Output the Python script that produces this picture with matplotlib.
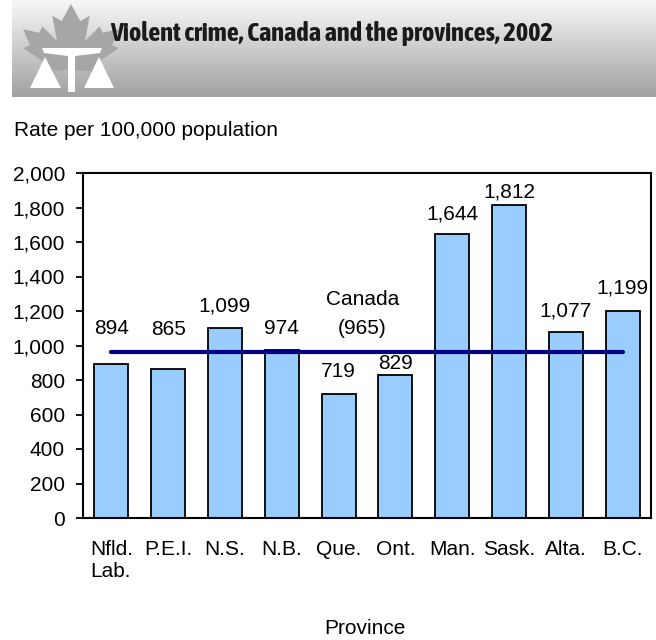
import numpy as np
import matplotlib
matplotlib.use('Agg')
import matplotlib.pyplot as plt
from matplotlib import font_manager
from matplotlib.patches import Polygon

# Violent crime rates per 100,000 population, 2002
provinces = ["Nfld.\nLab.", "P.E.I.", "N.S.", "N.B.", "Que.", "Ont.", "Man.", "Sask.", "Alta.", "B.C."]
rates = [894, 865, 1099, 974, 719, 829, 1644, 1812, 1077, 1199]
canada_rate = 965
# heights where the value labels sit (kept clear of the Canada line)
label_heights = [1101, 1090, 1229, 1101, 850, 895, 1762, 1890, 1200, 1333]

plt.rcParams['font.family'] = ['Liberation Sans', 'DejaVu Sans']
FS = 15

# a narrow bold face for the header if one is around
title_font = dict(family=['Liberation Sans', 'DejaVu Sans'], fontsize=15.5)
for f in font_manager.fontManager.ttflist:
    if ('Narrow' in f.name or 'Condensed' in f.name) and f.weight in ('bold', 700):
        title_font = dict(family=[f.name, 'DejaVu Sans'], fontsize=19)
        break
    if f.name == 'DejaVu Sans' and f.stretch == 'condensed' and f.weight in ('bold', 700):
        title_font = dict(family=['DejaVu Sans'], stretch='condensed', fontsize=16.5)

fig = plt.figure(figsize=(6.56, 6.40), dpi=100)

# header band with grey gradient, logo and title
deco = fig.add_axes([0, 0, 1, 1], zorder=0)
deco.set_xlim(0, 656)
deco.set_ylim(640, 0)
deco.axis('off')
grad = np.linspace(0.97, 0.63, 100).reshape(-1, 1)
deco.imshow(grad, cmap='gray', vmin=0, vmax=1, extent=[12, 656, 97, 0], aspect='auto')

leaf = np.array([
    (0, 1.0), (0.18, 0.62), (0.36, 0.74), (0.27, 0.18), (0.55, 0.50), (0.61, 0.36),
    (0.92, 0.44), (0.79, 0.08), (0.92, 0.02), (0.46, -0.34), (0.53, -0.52),
    (0.06, -0.46), (0.06, -0.95), (-0.06, -0.95), (-0.06, -0.46), (-0.53, -0.52),
    (-0.46, -0.34), (-0.92, 0.02), (-0.79, 0.08), (-0.92, 0.44), (-0.61, 0.36),
    (-0.55, 0.50), (-0.27, 0.18), (-0.36, 0.74), (-0.18, 0.62)])
cx, cy = 71, 49
deco.add_patch(Polygon(np.column_stack([cx + 52 * leaf[:, 0], cy - 45 * leaf[:, 1]]),
                       closed=True, fc='#a6a6a6', ec='none'))
white = dict(closed=True, fc='white', ec='none')
deco.add_patch(Polygon([(42, 48), (102, 48), (100, 53), (75, 56), (68, 56), (44, 53)], **white))
deco.add_patch(Polygon([(68, 54), (75, 54), (75, 92), (68, 92)], **white))
deco.add_patch(Polygon([(45, 57), (30, 88), (61, 88)], **white))
deco.add_patch(Polygon([(99, 57), (84, 88), (114, 88)], **white))

fig.text(110 / 656, 1 - 33 / 640, "Violent crime, Canada and the provinces, 2002",
         fontweight='bold', color='#1a1a1a', va='center', ha='left', **title_font)
fig.text(14 / 656, 1 - 130 / 640, "Rate per 100,000 population", fontsize=FS,
         va='center', ha='left')

ax = fig.add_axes([83 / 656, 122 / 640, 568 / 656, 345 / 640], zorder=1)
ax.patch.set_alpha(0)
x = np.arange(len(provinces))
ax.bar(x, rates, width=0.6, color='#99ccff', edgecolor='black', linewidth=1.3, zorder=2)
ax.plot([x[0], x[-1]], [canada_rate, canada_rate], color='#000080', lw=3, zorder=3,
        solid_capstyle='round')

for xi, r, h in zip(x, rates, label_heights):
    ax.text(xi, h, f"{r:,}", ha='center', va='center', fontsize=FS)
ax.text(4.42, 1267, "Canada", ha='center', va='center', fontsize=FS)
ax.text(4.42, 1101, f"({canada_rate:,})", ha='center', va='center', fontsize=FS)

ax.set_xlim(-0.5, len(provinces) - 0.5)
ax.set_ylim(0, 2000)
ax.set_yticks(np.arange(0, 2001, 200))
ax.set_yticklabels([f"{v:,}" for v in range(0, 2001, 200)])
ax.set_xticks(x)
ax.set_xticklabels(provinces, multialignment='left')
ax.tick_params(axis='y', length=5, width=1.3, pad=8, labelsize=FS)
ax.tick_params(axis='x', length=0, pad=16, labelsize=FS)
for s in ax.spines.values():
    s.set_linewidth(1.5)

fig.text(365 / 656, 1 - 628 / 640, "Province", fontsize=FS, ha='center', va='center')

fig.savefig("out.png", dpi=100)
